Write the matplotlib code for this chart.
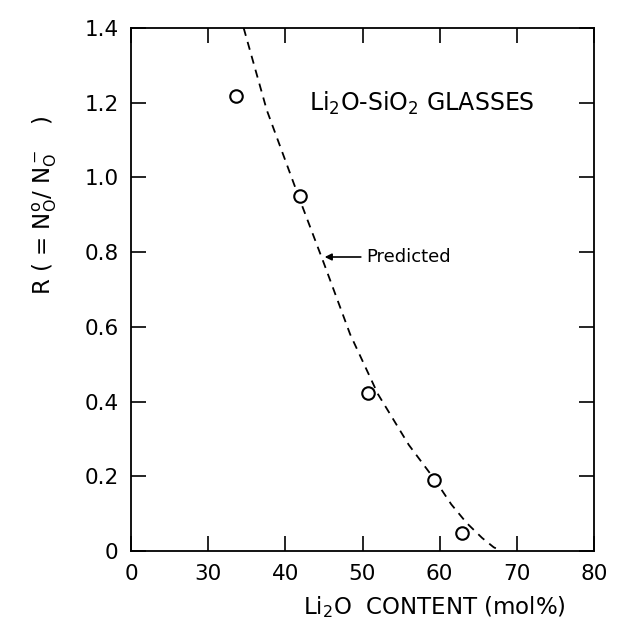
import matplotlib
matplotlib.use("Agg")
import matplotlib.pyplot as plt

# Measured data (Li2O mol%, R)
x_meas = [33.6, 41.9, 50.7, 59.3, 62.9]
r_meas = [1.218, 0.951, 0.423, 0.19, 0.048]

# Predicted curve
x_pred = [34.6, 37.6, 41.7, 45.0, 48.4, 52.0, 56.0, 59.4, 61.5, 63.5, 65.5, 67.0, 68.0]
r_pred = [1.40, 1.18, 0.95, 0.77, 0.58, 0.42, 0.284, 0.19, 0.125, 0.075, 0.035, 0.010, 0.0]

x_ticks = [20, 30, 40, 50, 60, 70, 80]
x_ticklabels = ["0", "30", "40", "50", "60", "70", "80"]
y_ticks = [0, 0.2, 0.4, 0.6, 0.8, 1.0, 1.2, 1.4]
y_ticklabels = ["0", "0.2", "0.4", "0.6", "0.8", "1.0", "1.2", "1.4"]

plt.rcParams['font.family'] = ['DejaVu Sans']
plt.rcParams['mathtext.default'] = 'regular'

fig = plt.figure(figsize=(6.33, 6.34), dpi=100)
ax = fig.add_axes([131/633, (634-551)/634, (594-131)/633, (551-28)/634])

ax.plot(x_pred, r_pred, color='black', lw=1.3, ls=(0, (4.5, 3.5)))
ax.plot(x_meas, r_meas, 'o', mfc='white', mec='black', mew=1.5, ms=9)

ax.set_xlim(20, 80)
ax.set_ylim(0, 1.4)
ax.set_xticks(x_ticks)
ax.set_xticklabels(x_ticklabels)
ax.set_yticks(y_ticks)
ax.set_yticklabels(y_ticklabels)
ax.tick_params(direction='in', length=11, width=1.2, top=True, right=True,
               labelsize=15.5, pad=9)
for s in ax.spines.values():
    s.set_linewidth(1.3)

ax.text(0.655, -0.108, r'Li$_2$O  CONTENT (mol%)', transform=ax.transAxes,
        ha='center', va='center', fontsize=16.5)
fig.text(45/633, 1 - 205/634, r'R ( = N$_O^o$/ N$_O^-$   )', rotation=90,
         ha='center', va='center', fontsize=16.5)

ax.text(0.385, 0.855, r'Li$_2$O-SiO$_2$ GLASSES', transform=ax.transAxes,
        ha='left', va='center', fontsize=17)

ax.annotate('Predicted', xy=(45.1, 0.787), xytext=(50.5, 0.787),
            ha='left', va='center', fontsize=13,
            arrowprops=dict(arrowstyle='-|>', color='black', lw=1.2,
                            shrinkA=2, shrinkB=0, mutation_scale=10))

fig.savefig('out.png', dpi=100)
